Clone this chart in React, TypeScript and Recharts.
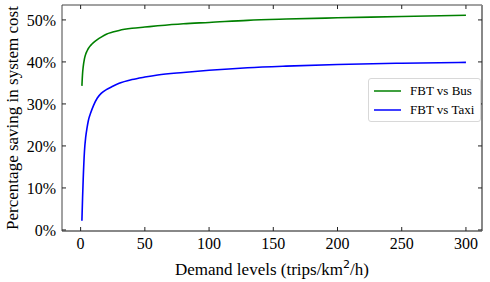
import { LineChart, Line, XAxis, YAxis, Legend, Label } from 'recharts'

// demand levels (trips/km²/h) where the curves were sampled
const demand = [1, 1.5, 2, 3, 4, 5, 6, 8, 10, 13, 16, 20, 25, 30, 40, 50, 60, 80, 100, 130, 160, 200, 250, 300]
// percentage saving in system cost
const fbtVsBus = [34.3, 37.2, 38.8, 40.8, 41.9, 42.6, 43.2, 44.0, 44.6, 45.3, 45.9, 46.6, 47.1, 47.5, 48.0, 48.3, 48.6, 49.1, 49.4, 49.9, 50.2, 50.5, 50.8, 51.1]
const fbtVsTaxi = [2.2, 7.5, 12.0, 18.8, 22.2, 24.3, 26.0, 28.0, 29.6, 31.4, 32.5, 33.4, 34.2, 34.9, 35.8, 36.4, 36.9, 37.5, 38.0, 38.6, 39.0, 39.4, 39.7, 39.9]

const xTicks = [0, 50, 100, 150, 200, 250, 300]
const yTicks = [0, 5, 10, 15, 20, 25, 30, 35, 40, 45, 50]

const data = demand.map((d, i) => ({ demand: d, bus: fbtVsBus[i], taxi: fbtVsTaxi[i] }))

const FONT = '"Liberation Serif", "Times New Roman", serif'
const INK = '#222'

const BottomTick = ({ x, y, payload }: any) => (
  <g>
    <line x1={x} x2={x} y1={y} y2={y - 4} stroke={INK} />
    <text x={x} y={y + 18} textAnchor="middle" fontSize={16} fontFamily={FONT} fill="#000">
      {payload.value}
    </text>
  </g>
)

const TopTick = ({ x, y }: any) => <line x1={x} x2={x} y1={y} y2={y + 4} stroke={INK} />

const LeftTick = ({ x, y, payload }: any) => {
  const major = payload.value % 10 === 0
  return (
    <g>
      <line x1={x} x2={x + (major ? 4 : 2)} y1={y} y2={y} stroke={INK} />
      {major && (
        <text x={x - 6} y={y} dy="0.35em" textAnchor="end" fontSize={16} fontFamily={FONT} fill="#000">
          {payload.value}%
        </text>
      )}
    </g>
  )
}

const RightTick = ({ x, y, payload }: any) => {
  const major = payload.value % 10 === 0
  return <line x1={x} x2={x - (major ? 4 : 2)} y1={y} y2={y} stroke={INK} />
}

const LegendBox = ({ payload }: any) => (
  <div
    style={{
      border: '1px solid #d8d8d8',
      borderRadius: 3,
      background: '#fff',
      padding: '2px 6px 2px 5px',
      fontFamily: FONT,
      fontSize: 13,
      color: '#000',
      textAlign: 'left',
    }}
  >
    {(payload || []).map((p: any) => (
      <div key={p.value} style={{ display: 'flex', alignItems: 'center', height: 19 }}>
        <svg width={27} height={4}>
          <line x1={0} x2={27} y1={2} y2={2} stroke={p.color} strokeWidth={1.5} />
        </svg>
        <span style={{ marginLeft: 9, whiteSpace: 'nowrap' }}>{p.value}</span>
      </div>
    ))}
  </div>
)

export default function App() {
  return (
    <div style={{ position: 'absolute', left: 0, top: 0, width: 490, height: 282, background: '#fff' }}>
      <LineChart width={490} height={282} data={data} margin={{ top: 4, right: 7, bottom: 0, left: 0 }}>
        <XAxis
          xAxisId="bottom"
          dataKey="demand"
          type="number"
          domain={[-14.5, 312.5]}
          ticks={xTicks}
          allowDataOverflow
          height={51}
          tickSize={0}
          tickMargin={0}
          tickLine={false}
          axisLine={{ stroke: '#888', strokeWidth: 2 }}
          tick={<BottomTick />}
        >
          <Label
            content={({ viewBox }: any) => (
              <text
                x={viewBox.x + viewBox.width / 2}
                y={viewBox.y + 44}
                textAnchor="middle"
                fontSize={17}
                fontFamily={FONT}
                fill="#000"
              >
                <tspan>Demand levels (trips/km</tspan>
                <tspan dy={-7} fontSize={11} fontFamily="DejaVu Sans">2</tspan>
                <tspan dy={7}>/h)</tspan>
              </text>
            )}
          />
        </XAxis>
        <XAxis
          xAxisId="top"
          orientation="top"
          dataKey="demand"
          type="number"
          domain={[-14.5, 312.5]}
          ticks={xTicks}
          allowDataOverflow
          height={1}
          tickSize={0}
          tickMargin={0}
          tickLine={false}
          axisLine={{ stroke: '#444' }}
          tick={<TopTick />}
        />
        <YAxis
          yAxisId="left"
          type="number"
          domain={[-0.25, 53.55]}
          ticks={yTicks}
          allowDataOverflow
          width={62}
          tickSize={0}
          tickMargin={0}
          tickLine={false}
          axisLine={{ stroke: '#444' }}
          tick={<LeftTick />}
        >
          <Label
            content={({ viewBox }: any) => {
              const cx = viewBox.x + 12
              const cy = viewBox.y + viewBox.height / 2
              return (
                <text
                  x={cx}
                  y={cy}
                  transform={`rotate(-90 ${cx} ${cy})`}
                  textAnchor="middle"
                  dy="0.35em"
                  fontSize={17}
                  fontFamily={FONT}
                  fill="#000"
                >
                  Percentage saving in system cost
                </text>
              )
            }}
          />
        </YAxis>
        <YAxis
          yAxisId="right"
          orientation="right"
          type="number"
          domain={[-0.25, 53.55]}
          ticks={yTicks}
          allowDataOverflow
          width={1}
          tickSize={0}
          tickMargin={0}
          tickLine={false}
          axisLine={{ stroke: '#888', strokeWidth: 2 }}
          tick={<RightTick />}
        />
        <Line
          xAxisId="bottom"
          yAxisId="left"
          type="monotone"
          dataKey="bus"
          name="FBT vs Bus"
          stroke="#008000"
          strokeWidth={1.6}
          dot={false}
          isAnimationActive={false}
        />
        <Line
          xAxisId="bottom"
          yAxisId="left"
          type="monotone"
          dataKey="taxi"
          name="FBT vs Taxi"
          stroke="#0000ff"
          strokeWidth={1.6}
          dot={false}
          isAnimationActive={false}
        />
        <Legend
          layout="horizontal"
          verticalAlign="middle"
          align="center"
          content={<LegendBox />}
          wrapperStyle={{ left: 368, top: 78, width: 'auto' }}
        />
      </LineChart>
    </div>
  )
}
